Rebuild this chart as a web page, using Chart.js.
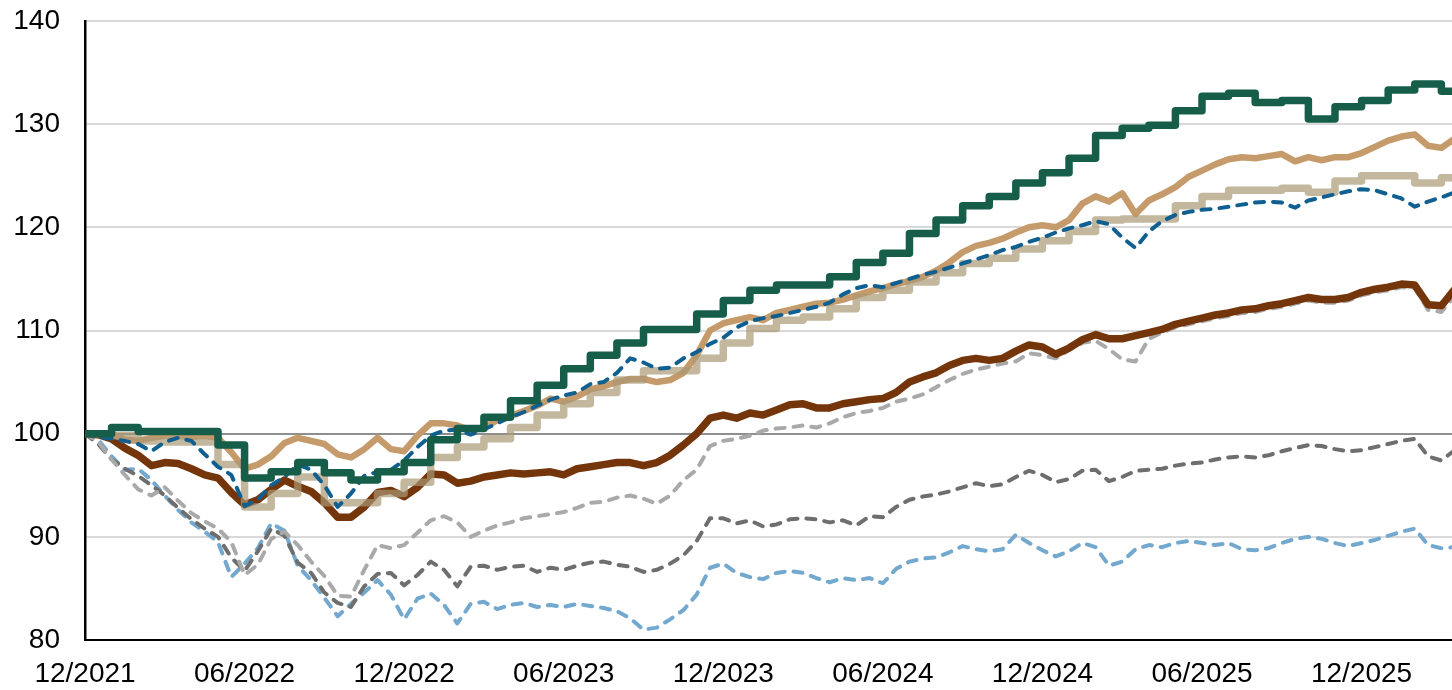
<!DOCTYPE html>
<html>
<head>
<meta charset="utf-8">
<script src="https://cdn.jsdelivr.net/npm/chart.js@4.4.1/dist/chart.umd.min.js"></script>
<style>
  html, body { margin: 0; padding: 0; background: #fff; }
  #wrap { width: 1452px; height: 690px; }
</style>
</head>
<body>
<div id="wrap"><canvas id="myChart" width="1452" height="690"></canvas></div>
<script>
// x axis is in months since 12/2021
const tickMonths = [0, 6, 12, 18, 24, 30, 36, 42, 48];
const tickLabels = ['12/2021', '06/2022', '12/2022', '06/2023', '12/2023', '06/2024', '12/2024', '06/2025', '12/2025'];
const lastMonth = 51.4;

// monthly step series (one value per month, m0..m51)
const greenSteps = [
  100.0, 100.6, 100.2, 100.2, 100.2, 98.9, 95.7, 96.3, 97.2, 96.2, 95.5, 96.3,
  97.2, 99.4, 100.5, 101.6, 103.2, 104.7, 106.3, 107.6, 108.8, 110.1, 110.1, 111.6,
  112.9, 113.9, 114.4, 114.4, 115.2, 116.6, 117.5, 119.4, 120.7, 122.1, 123.0, 124.3,
  125.3, 126.7, 128.9, 129.6, 129.9, 131.3, 132.7, 133.0, 132.1, 132.3, 130.5, 131.7,
  132.3, 133.3, 133.9, 133.2
];
const beigeSteps = [
  100.0, 99.8, 99.3, 99.2, 99.2, 97.0, 92.9, 94.2, 95.8, 93.3, 93.3, 94.2,
  95.3, 97.7, 98.7, 99.5, 100.6, 101.8, 102.9, 104.0, 105.2, 106.1, 106.1, 107.3,
  108.8, 110.2, 111.0, 111.3, 112.1, 113.2, 113.9, 114.7, 115.6, 116.5, 117.0, 117.9,
  118.7, 119.6, 120.7, 120.8, 120.8, 122.1, 123.0, 123.6, 123.6, 123.8, 123.4, 124.5,
  125.0, 125.0, 124.3, 124.8
];

// half-monthly series (m0, m0.5, ... m51.5)
const tanLine = [
  100.0, 100.0, 100.0, 99.4, 99.3, 99.6, 99.8, 99.8, 99.7, 99.8, 99.6, 98.2,
  96.6, 97.0, 97.8, 99.1, 99.6, 99.3, 99.0, 98.0, 97.7, 98.5, 99.6, 98.5,
  98.3, 99.8, 101.0, 101.0, 100.8, 100.3, 100.6, 101.3, 101.7, 102.2, 102.7, 103.4,
  103.1, 103.6, 104.3, 104.6, 105.0, 105.3, 105.3, 105.0, 105.2, 105.9, 107.6, 110.0,
  110.7, 111.0, 111.3, 111.0, 111.7, 112.0, 112.3, 112.6, 112.7, 113.0, 113.4, 113.8,
  114.1, 114.5, 114.8, 115.2, 115.8, 116.6, 117.6, 118.2, 118.5, 118.9, 119.5, 120.0,
  120.2, 120.0, 120.7, 122.3, 123.0, 122.5, 123.3, 121.3, 122.6, 123.2, 123.9, 124.9,
  125.5, 126.1, 126.6, 126.8, 126.7, 126.9, 127.1, 126.4, 126.8, 126.5, 126.8, 126.8,
  127.2, 127.8, 128.4, 128.8, 129.0, 127.9, 127.7, 128.6
];
const blueDashed = [
  100.0, 99.7, 99.5, 99.3, 99.0, 98.3, 99.2, 99.6, 99.3, 98.0, 96.8, 96.0,
  93.0, 93.6, 95.0, 95.8, 97.0, 96.5, 95.0, 92.9, 94.2, 95.9, 96.3, 96.5,
  97.4, 98.7, 99.8, 100.3, 100.4, 99.9, 100.4, 101.0, 101.6, 102.1, 102.7, 103.3,
  103.7, 104.0, 104.8, 105.0, 105.9, 107.3, 106.9, 106.3, 106.4, 107.3, 107.9, 108.7,
  109.3, 110.3, 110.9, 111.2, 111.4, 111.7, 112.0, 112.3, 112.7, 113.5, 114.1, 114.4,
  114.2, 114.6, 115.0, 115.4, 115.7, 116.1, 116.5, 116.9, 117.3, 117.8, 118.1, 118.6,
  119.0, 119.5, 119.9, 120.2, 120.6, 120.3, 119.0, 118.0, 119.6, 120.6, 121.2, 121.5,
  121.7, 121.8, 122.0, 122.2, 122.4, 122.5, 122.4, 121.9, 122.6, 122.9, 123.2, 123.5,
  123.7, 123.6, 123.2, 122.8, 122.0, 122.5, 122.9, 123.4
];
const brownLine = [
  100.0, 99.9, 99.5, 98.6, 97.9, 96.9, 97.2, 97.1, 96.6, 96.0, 95.7, 94.3,
  93.1, 93.6, 94.6, 95.5, 94.9, 94.4, 93.3, 91.9, 91.9, 92.9, 94.3, 94.5,
  93.9, 94.8, 96.1, 96.0, 95.2, 95.4, 95.8, 96.0, 96.2, 96.1, 96.2, 96.3,
  96.0, 96.6, 96.8, 97.0, 97.2, 97.2, 96.9, 97.2, 97.9, 98.9, 100.0, 101.5,
  101.8, 101.5, 102.0, 101.8, 102.3, 102.8, 102.9, 102.5, 102.5, 102.9, 103.1, 103.3,
  103.4, 104.0, 105.0, 105.5, 105.9, 106.6, 107.1, 107.3, 107.1, 107.3, 108.0, 108.6,
  108.4, 107.7, 108.3, 109.1, 109.6, 109.2, 109.2, 109.5, 109.8, 110.1, 110.6, 110.9,
  111.2, 111.5, 111.7, 112.0, 112.1, 112.4, 112.6, 112.9, 113.2, 113.0, 113.0, 113.2,
  113.7, 114.0, 114.2, 114.5, 114.4, 112.5, 112.4, 114.0
];
const lightGreyDashed = [
  100.0, 99.2, 97.5, 96.0, 94.6, 94.0, 94.8, 93.5, 92.3, 91.5, 90.8, 89.5,
  86.3, 87.3, 89.8, 90.5, 89.2, 87.6, 86.2, 84.3, 84.2, 86.8, 89.2, 88.9,
  89.2, 90.4, 91.6, 92.0, 91.4, 90.0, 90.6, 91.1, 91.4, 91.8, 92.0, 92.2,
  92.4, 92.8, 93.3, 93.4, 93.8, 94.0, 93.7, 93.2, 94.0, 95.5, 96.5, 98.8,
  99.3, 99.5, 99.8, 100.3, 100.5, 100.6, 100.8, 100.6, 101.0, 101.6, 102.0, 102.2,
  102.5, 103.1, 103.4, 103.8, 104.5, 105.2, 105.8, 106.2, 106.5, 106.8, 107.0, 107.8,
  107.6, 107.3, 108.1, 108.8, 109.0, 108.2, 107.2, 107.0, 109.2, 109.8, 110.3, 110.6,
  110.9, 111.2, 111.4, 111.7, 111.8, 112.1, 112.3, 112.6, 112.9, 112.7, 112.7, 112.9,
  113.4, 113.7, 113.9, 114.2, 114.1, 112.0, 111.8, 113.3
];
const darkGreyDashed = [
  100.0, 99.0, 97.5, 96.6, 95.9, 95.0, 94.0, 92.8, 91.7, 90.8, 90.0, 88.0,
  86.7, 88.6, 90.8, 90.1, 87.5, 86.5, 84.6, 83.6, 83.2, 85.2, 86.4, 86.5,
  85.3, 86.3, 87.6, 86.8, 85.2, 87.1, 87.2, 86.8, 87.1, 87.2, 86.6, 87.0,
  86.8, 87.2, 87.5, 87.6, 87.3, 87.1, 86.6, 86.8, 87.4, 88.2, 89.6, 91.8,
  91.8, 91.3, 91.6, 91.0, 91.2, 91.7, 91.8, 91.7, 91.4, 91.6, 91.1, 92.0,
  91.9, 92.9, 93.6, 93.9, 94.1, 94.4, 94.8, 95.2, 94.9, 95.1, 95.8, 96.4,
  96.0, 95.3, 95.6, 96.4, 96.5, 95.4, 95.8, 96.4, 96.5, 96.6, 96.9, 97.1,
  97.2, 97.5, 97.7, 97.8, 97.7, 97.9, 98.3, 98.6, 98.9, 98.8, 98.5, 98.3,
  98.4, 98.7, 99.0, 99.3, 99.5, 97.8, 97.4, 98.4
];
const lightBlueDashed = [
  100.0, 99.4, 97.8, 96.5, 96.6, 95.5, 94.0, 92.6, 91.4, 90.5, 89.5, 86.1,
  87.4, 88.9, 91.3, 90.6, 87.2, 85.8, 84.1, 82.3, 83.5, 84.6, 85.8, 84.4,
  82.0, 84.0, 84.5, 83.4, 81.6, 83.5, 83.7, 83.0, 83.4, 83.6, 83.2, 83.4,
  83.2, 83.5, 83.3, 83.1, 82.8, 82.1, 81.0, 81.2, 82.0, 82.9, 84.4, 87.0,
  87.4, 86.5, 86.1, 85.9, 86.5, 86.7, 86.5, 86.0, 85.6, 86.0, 85.8, 86.0,
  85.5, 86.9, 87.6, 87.9, 88.0, 88.5, 89.1, 88.8, 88.6, 88.8, 90.2, 89.4,
  88.7, 88.1, 88.6, 89.4, 89.0, 87.2, 87.6, 88.8, 89.2, 89.0, 89.4, 89.6,
  89.4, 89.2, 89.4, 88.8, 88.7, 88.9, 89.4, 89.8, 90.0, 89.8, 89.4, 89.1,
  89.4, 89.7, 90.1, 90.5, 90.8, 89.2, 88.9, 89.0
];

function halfMonthly(values) {
  return values.map((v, i) => ({ x: i / 2, y: v }));
}
function monthlySteps(values) {
  const pts = values.map((v, i) => ({ x: i, y: v }));
  pts.push({ x: lastMonth + 0.2, y: values[values.length - 1] }); // carry last step to the edge
  return pts;
}

const dash = [9, 9];
const tickFont = { family: '"Liberation Sans", Arial, sans-serif', size: 28 };

// first dataset is drawn on top
const datasets = [
  { data: monthlySteps(greenSteps), borderColor: '#165e4a', borderWidth: 7.5, stepped: true },
  { data: halfMonthly(blueDashed), borderColor: '#0f5f91', borderWidth: 4, borderDash: dash, borderCapStyle: 'round' },
  { data: monthlySteps(beigeSteps), borderColor: 'rgba(170,153,115,0.7)', borderWidth: 7.5, stepped: true },
  { data: halfMonthly(tanLine), borderColor: '#c69b6c', borderWidth: 6.5 },
  { data: halfMonthly(brownLine), borderColor: '#74350b', borderWidth: 7.5 },
  { data: halfMonthly(lightGreyDashed), borderColor: '#a9a9a9', borderWidth: 4, borderDash: dash, borderCapStyle: 'round' },
  { data: halfMonthly(darkGreyDashed), borderColor: '#6e6e6e', borderWidth: 4, borderDash: dash, borderCapStyle: 'round' },
  { data: halfMonthly(lightBlueDashed), borderColor: '#74a9cf', borderWidth: 4, borderDash: dash, borderCapStyle: 'round' }
];

const ctx = document.getElementById('myChart').getContext('2d');
const chart = new Chart(ctx, {
  type: 'line',
  data: { datasets: datasets },
  options: {
    responsive: false,
    animation: false,
    plugins: { legend: { display: false }, tooltip: { enabled: false } },
    layout: { padding: { top: 21, right: 0, bottom: 0, left: 0 } },
    elements: {
      point: { radius: 0 },
      line: { tension: 0, fill: false, borderJoinStyle: 'round' }
    },
    scales: {
      x: {
        type: 'linear',
        min: 0,
        max: lastMonth,
        afterBuildTicks: (scale) => { scale.ticks = tickMonths.map(v => ({ value: v })); },
        afterFit: (scale) => { scale.height = 50; scale.paddingRight = 0; },
        ticks: {
          autoSkip: false,
          maxRotation: 0,
          padding: 17,
          color: '#000',
          font: tickFont,
          callback: (v) => tickLabels[tickMonths.indexOf(v)]
        },
        grid: { display: false, drawTicks: false },
        border: { display: true, color: '#000', width: 2 }
      },
      y: {
        min: 80,
        max: 140,
        afterFit: (scale) => { scale.width = 85; scale.paddingTop = 0; scale.paddingBottom = 0; },
        ticks: { stepSize: 10, padding: 25, color: '#000', font: tickFont },
        grid: {
          drawTicks: false,
          lineWidth: 2,
          color: (c) => c.tick && c.tick.value === 100 ? '#8f8f8f' : '#d9d9d9'
        },
        border: { display: true, color: '#000', width: 2.5 }
      }
    }
  }
});
</script>
</body>
</html>
